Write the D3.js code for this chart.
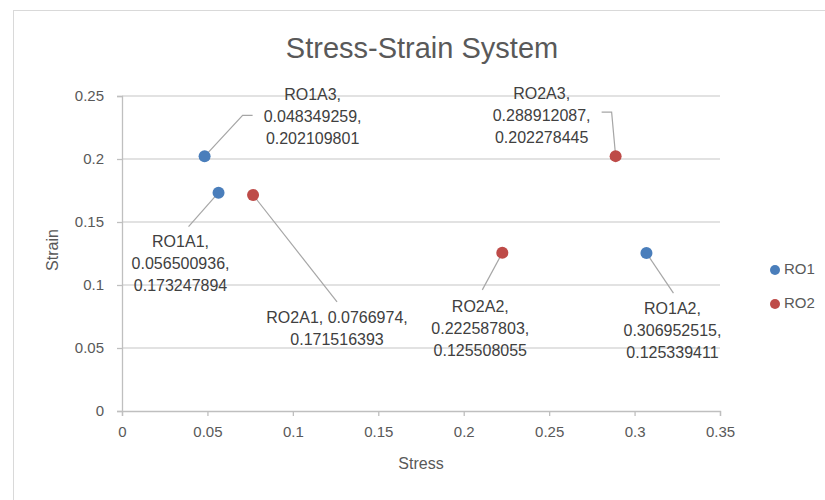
<!DOCTYPE html>
<html>
<head>
<meta charset="utf-8">
<script src="https://cdn.jsdelivr.net/npm/d3@7"></script>
<style>
  body { margin: 0; background: #fff; }
  text { font-family: "Liberation Sans", Arial, sans-serif; }
</style>
</head>
<body>
<div id="chart"></div>
<script>
// series data
const seriesNames = ["RO1", "RO2"];
const seriesColors = ["#4a7ebb", "#be4b48"];
const ro1Names = ["RO1A1", "RO1A2", "RO1A3"];
const ro1Stress = [0.056500936, 0.306952515, 0.048349259];
const ro1Strain = [0.173247894, 0.125339411, 0.202109801];
const ro2Names = ["RO2A1", "RO2A2", "RO2A3"];
const ro2Stress = [0.0766974, 0.222587803, 0.288912087];
const ro2Strain = [0.171516393, 0.125508055, 0.202278445];
const xTicks = [0, 0.05, 0.1, 0.15, 0.2, 0.25, 0.3, 0.35];
const yTicks = [0, 0.05, 0.1, 0.15, 0.2, 0.25];

// label placement (pixel offsets from the point), like Excel's dragged labels
const labelLayout = {
    RO1A1: {dx: -38, dy: 50, join: false, leader: [[0, 0], [-30, 34]]},
    RO1A2: {dx: 26, dy: 57, join: false, leader: [[0, 0], [27, 40]]},
    RO1A3: {dx: 108, dy: -61, join: false, leader: [[0, 0], [38, -41], [48, -41]]},
    RO2A1: {dx: 84, dy: 124, join: true, leader: [[0, 0], [84, 107]]},
    RO2A2: {dx: -22, dy: 55, join: false, leader: [[0, 0], [-20, 37]]},
    RO2A3: {dx: -74, dy: -61, join: false, leader: [[0, 0], [-4, -44], [-14, -44]]}
};

const W = 825, H = 500;
const svg = d3.select("#chart").append("svg").attr("width", W).attr("height", H);

// chart frame
svg.append("rect").attr("x", 13.5).attr("y", 10.5).attr("width", W).attr("height", H)
    .attr("fill", "#fff").attr("stroke", "#d9d9d9");

const x = d3.scaleLinear().domain([0, 0.35]).range([122, 720]);
const y = d3.scaleLinear().domain([0, 0.25]).range([411, 96]);

svg.append("text").attr("x", 422).attr("y", 50).attr("text-anchor", "middle")
    .attr("dominant-baseline", "middle").attr("font-size", 29).attr("fill", "#595959")
    .text("Stress-Strain System");

// gridlines
svg.append("g").selectAll("line").data(yTicks.filter(d => d > 0)).enter().append("line")
    .attr("x1", x(0)).attr("x2", x(0.35))
    .attr("y1", d => y(d)).attr("y2", d => y(d))
    .attr("stroke", "#d9d9d9").attr("stroke-width", 1.3);

// axes
const xAxis = svg.append("g").attr("transform", `translate(0,${y(0)})`)
    .call(d3.axisBottom(x).tickValues(xTicks).tickSize(5).tickPadding(10).tickFormat(d3.format("")));
const yAxis = svg.append("g").attr("transform", `translate(${x(0)},0)`)
    .call(d3.axisLeft(y).tickValues(yTicks).tickSize(5).tickPadding(13).tickFormat(d3.format("")));
[xAxis, yAxis].forEach(a => {
    a.select(".domain").attr("stroke", "#bfbfbf").attr("stroke-width", 1.3);
    a.selectAll(".tick line").attr("stroke", "#bfbfbf").attr("stroke-width", 1.3);
    a.selectAll(".tick text").attr("fill", "#595959").attr("font-size", 15)
        .attr("font-family", "'Liberation Sans', Arial, sans-serif");
});

svg.append("text").attr("x", 421).attr("y", 465).attr("text-anchor", "middle")
    .attr("dominant-baseline", "middle").attr("font-size", 16).attr("fill", "#595959").text("Stress");
svg.append("text").attr("transform", "translate(54,250) rotate(-90)").attr("text-anchor", "middle")
    .attr("dominant-baseline", "middle").attr("font-size", 16).attr("fill", "#595959").text("Strain");

const points = [];
ro1Names.forEach((n, i) => points.push({name: n, s: 0, x: ro1Stress[i], y: ro1Strain[i]}));
ro2Names.forEach((n, i) => points.push({name: n, s: 1, x: ro2Stress[i], y: ro2Strain[i]}));

// leader lines
const line = d3.line();
svg.append("g").selectAll("path").data(points).enter().append("path")
    .attr("d", d => line(labelLayout[d.name].leader.map(p => [x(d.x) + p[0], y(d.y) + p[1]])))
    .attr("fill", "none").attr("stroke", "#a6a6a6").attr("stroke-width", 1.2);

// markers
svg.append("g").selectAll("circle").data(points).enter().append("circle")
    .attr("cx", d => x(d.x)).attr("cy", d => y(d.y)).attr("r", 6)
    .attr("fill", d => seriesColors[d.s]);

// data labels
const lbl = svg.append("g").selectAll("text").data(points).enter().append("text")
    .attr("text-anchor", "middle").attr("font-size", 16).attr("fill", "#404040");
lbl.each(function(d) {
    const L = labelLayout[d.name];
    const lines = L.join ? [`${d.name}, ${d.x},`, `${d.y}`] : [`${d.name},`, `${d.x},`, `${d.y}`];
    const t = d3.select(this);
    lines.forEach((s, i) => {
        t.append("tspan").attr("x", x(d.x) + L.dx).attr("y", y(d.y) + L.dy + i * 22)
            .attr("dominant-baseline", "middle").text(s);
    });
});

// legend
const leg = svg.append("g").selectAll("g").data(seriesNames).enter().append("g")
    .attr("transform", (d, i) => `translate(775,${270 + i * 34})`);
leg.append("circle").attr("r", 5).attr("fill", (d, i) => seriesColors[i]);
leg.append("text").attr("x", 9).attr("dominant-baseline", "middle").attr("font-size", 15)
    .attr("fill", "#595959").text(d => d);
</script>
</body>
</html>
